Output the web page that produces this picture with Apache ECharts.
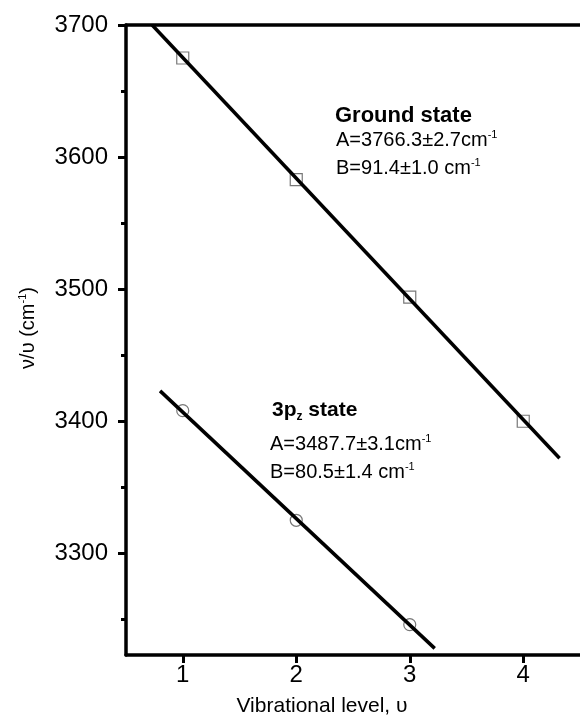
<!DOCTYPE html>
<html>
<head>
<meta charset="utf-8">
<script src="https://cdn.jsdelivr.net/npm/echarts@6/dist/echarts.min.js"></script>
<style>html,body{margin:0;padding:0;background:#fff}#c{width:580px;height:719px}</style>
</head>
<body>
<div id="c"></div>
<script>
// Data
var xTicks = [1, 2, 3, 4];
var yMajorTicks = [3300, 3400, 3500, 3600, 3700];
var yMinorTicks = [3250, 3350, 3450, 3550, 3650];
var groundX = [1, 2, 3, 4];
var groundY = [3675, 3583, 3494, 3400];
var p3zX = [1, 2, 3];
var p3zY = [3408, 3325, 3246];
var groundFitX = [0.73, 4.32];
var groundFitY = [3700, 3372];
var p3zFitX = [0.80, 3.22];
var p3zFitY = [3423, 3228];

function pairs(xs, ys) { return xs.map(function (x, i) { return [x, ys[i]]; }); }

var FONT = '"Liberation Sans", Arial, sans-serif';
var richN = { fontSize: 20, fontFamily: FONT, fill: '#000', lineHeight: 22 };
var richS = { fontSize: 11, fontFamily: FONT, fill: '#000', verticalAlign: 'top', lineHeight: 11 };
var chart = echarts.init(document.getElementById('c'));
chart.setOption({
  animation: false,
  grid: { left: 126, top: 25, right: 0, bottom: 64 },
  xAxis: [{
    type: 'value', position: 'bottom', min: 0.5, max: 4.5,
    axisLine: { lineStyle: { color: '#000', width: 3.5 } },
    axisTick: { customValues: xTicks, length: 8, lineStyle: { color: '#000', width: 3 } },
    axisLabel: { customValues: xTicks, color: '#000', fontSize: 24, fontFamily: FONT, margin: 8,
      formatter: function (v) { return String(v); } },
    splitLine: { show: false }
  }, {
    type: 'value', position: 'top', min: 0.5, max: 4.5,
    axisLine: { lineStyle: { color: '#000', width: 3.5 } },
    axisTick: { show: false }, axisLabel: { show: false }, splitLine: { show: false }
  }],
  yAxis: [{
    type: 'value', position: 'left', min: 3223, max: 3700,
    axisLine: { lineStyle: { color: '#000', width: 3.5 } },
    axisTick: { customValues: yMajorTicks, length: 8, lineStyle: { color: '#000', width: 3 } },
    axisLabel: { customValues: yMajorTicks, color: '#000', fontSize: 24, fontFamily: FONT, margin: 18,
      formatter: function (v) { return String(v); } },
    splitLine: { show: false }
  }, {
    type: 'value', position: 'left', min: 3223, max: 3700,
    axisLine: { show: false },
    axisTick: { customValues: yMinorTicks, length: 5, lineStyle: { color: '#000', width: 3 } },
    axisLabel: { show: false }, splitLine: { show: false }
  }],
  graphic: [
    { type: 'text', x: 28, y: 328, rotation: Math.PI / 2, style: { text: '{n|ν/υ (cm}{s|-1}{n|)}', align: 'center', verticalAlign: 'middle',
        rich: { n: { fontSize: 20, fontFamily: FONT, fill: '#000', lineHeight: 22 }, s: richS } } },
    { type: 'text', x: 322, y: 706, style: { text: 'Vibrational level, υ', align: 'center', verticalAlign: 'middle', font: '21px ' + FONT, fill: '#000' } },
    { type: 'text', x: 335, y: 116, style: { text: 'Ground state', verticalAlign: 'middle', font: 'bold 22px ' + FONT, fill: '#000' } },
    { type: 'text', x: 336, y: 140, style: { text: '{n|A=3766.3±2.7cm}{s|-1}', verticalAlign: 'middle', rich: { n: richN, s: richS } } },
    { type: 'text', x: 336, y: 168, style: { text: '{n|B=91.4±1.0 cm}{s|-1}', verticalAlign: 'middle', rich: { n: richN, s: richS } } },
    { type: 'text', x: 272, y: 410, style: { text: '{b|3p}{z|z}{b| state}', verticalAlign: 'middle',
        rich: { b: { fontSize: 21, fontWeight: 'bold', fontFamily: FONT, fill: '#000', lineHeight: 26 }, z: { fontSize: 12, fontWeight: 'bold', fontFamily: FONT, fill: '#000', verticalAlign: 'bottom', lineHeight: 12 } } } },
    { type: 'text', x: 270, y: 444, style: { text: '{n|A=3487.7±3.1cm}{s|-1}', verticalAlign: 'middle', rich: { n: richN, s: richS } } },
    { type: 'text', x: 270, y: 472, style: { text: '{n|B=80.5±1.4 cm}{s|-1}', verticalAlign: 'middle', rich: { n: richN, s: richS } } }
  ],
  series: [
    { type: 'scatter', data: pairs(groundX, groundY), symbol: 'rect', symbolSize: 12,
      itemStyle: { color: 'rgba(0,0,0,0)', borderColor: '#555', borderWidth: 1.2 }, z: 2 },
    { type: 'scatter', data: pairs(p3zX, p3zY), symbol: 'circle', symbolSize: 12,
      itemStyle: { color: 'rgba(0,0,0,0)', borderColor: '#555', borderWidth: 1.2 }, z: 2 },
    { type: 'line', data: pairs(groundFitX, groundFitY), showSymbol: false, symbol: 'none',
      lineStyle: { color: '#000', width: 3.5 }, z: 3 },
    { type: 'line', data: pairs(p3zFitX, p3zFitY), showSymbol: false, symbol: 'none',
      lineStyle: { color: '#000', width: 3.5 }, z: 3 }
  ]
});
</script>
</body>
</html>
